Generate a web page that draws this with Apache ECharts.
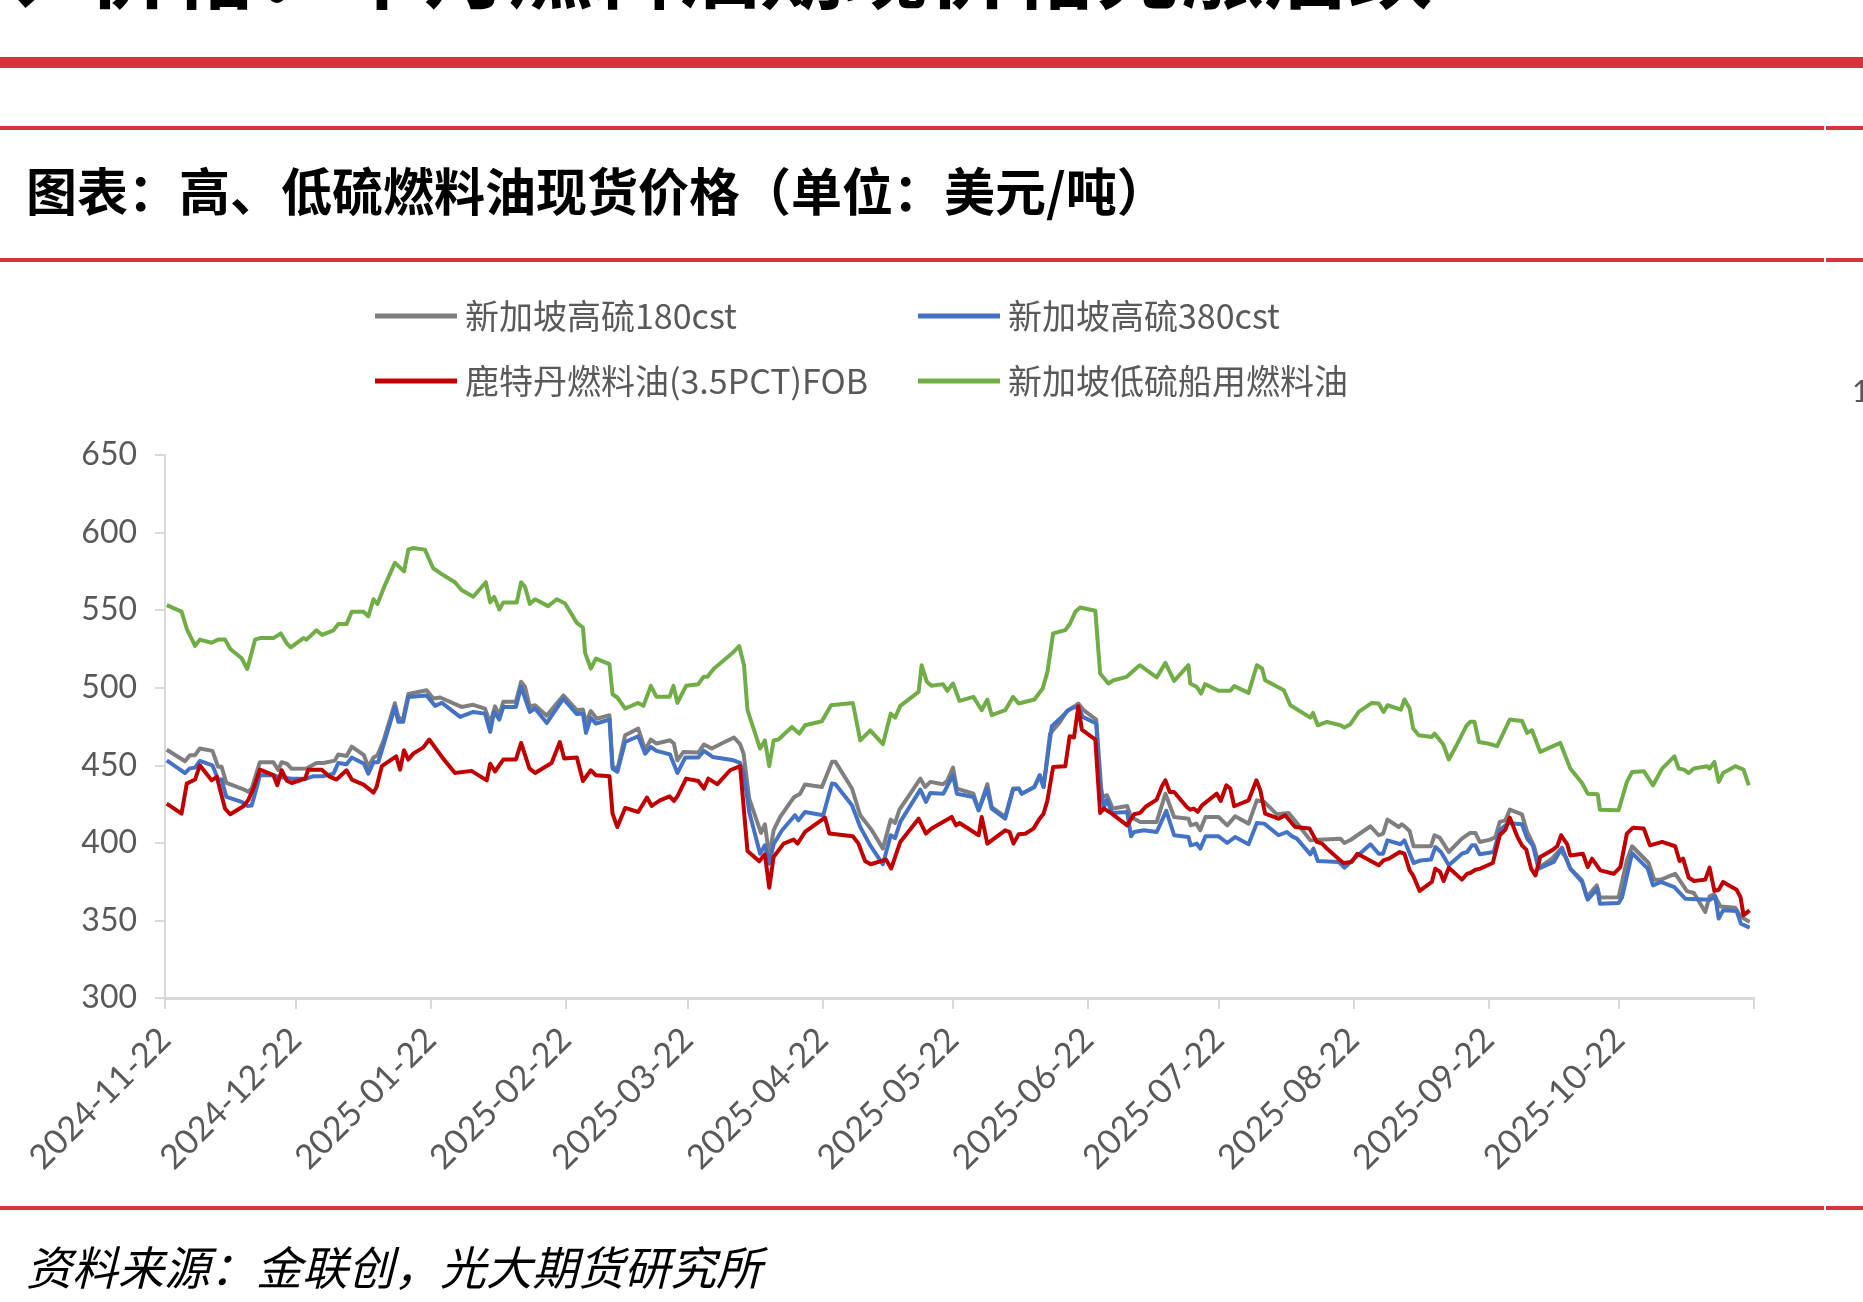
<!DOCTYPE html>
<html><head><meta charset="utf-8">
<script src="https://cdn.jsdelivr.net/npm/echarts@6/dist/echarts.min.js"></script>
<style>html,body{margin:0;padding:0;background:#fff}#c{width:1863px;height:1302px}</style>
</head><body><div id="c"></div>
<script>
// ---- data ----
const startDate = '2024-11-22';           // day 0 of the series offsets
const tickDates = ['2024-11-22','2024-12-22','2025-01-22','2025-02-22','2025-03-22','2025-04-22','2025-05-22','2025-06-22','2025-07-22','2025-08-22','2025-09-22','2025-10-22','2025-11-22'];
const labelDates = tickDates.slice(0, 12);
const yMin = 300, yMax = 650, yStep = 50;
const seriesNames = ['新加坡高硫180cst','新加坡高硫380cst','鹿特丹燃料油(3.5PCT)FOB','新加坡低硫船用燃料油'];
const chartTitle = '图表：高、低硫燃料油现货价格（单位：美元/吨）';
const sourceNote = '资料来源：金联创，光大期货研究所';
const pageHeading = '二、价格：本月燃料油期现价格先涨后跌';

// [day offset from startDate, USD/t]
const hsfo180 = [[0.4,460],[4.6,452.6],[5.7,456.5],[6.9,456.5],[8,460.8],[10.9,459.3],[12.2,449],[13,449],[14.1,438.6],[17.6,435],[19.1,433],[19.9,435],[21.8,452],[24.9,452],[26,447],[26.8,452],[28,451],[29.1,447.7],[32.5,448],[34.8,451.5],[36.4,451.5],[39,453],[39.8,457],[41.7,456],[42.9,462],[45.7,456.5],[46.7,449],[47.9,455],[48.8,456.5],[50.2,466],[52.8,490],[53.6,481],[54.6,479],[55.9,496],[60.1,498.4],[61.6,493],[63.2,493.7],[68.1,487.6],[70.8,489],[73.5,486.5],[74.7,477.3],[75.8,488],[76.8,482],[77.7,491],[80.6,491],[81.8,503.8],[82.7,500.5],[83.8,487.6],[85,488.7],[87.7,482],[91.5,495],[94.6,485.5],[96,486],[96.7,477.3],[97.8,485],[99.2,480],[102.1,482.3],[102.8,449.4],[103.9,447.2],[105.7,469.4],[108.7,473.7],[110.3,460.1],[111.6,466.6],[112.9,464],[116,466.1],[116.9,464],[117.7,453.2],[119.1,458.6],[122.5,458.2],[123.8,463.4],[125.6,460.8],[127.5,463.6],[130.7,467.9],[132.1,463.6],[132.9,457.5],[134.2,428.5],[136.9,406.4],[137.8,412],[138.8,391.3],[139.8,408],[141.3,416.7],[144.4,429.2],[145.9,431.7],[147,437.6],[150.9,436],[153.2,452.2],[154,452.2],[157.8,435],[159.7,417.8],[162.4,408],[164.9,396.3],[166.7,415],[167.7,412.8],[168.7,421.4],[171.2,431.7],[173.5,441.4],[174.6,436],[175.8,439.3],[178.7,437.8],[179.7,440],[181,448.5],[181.9,435],[185.7,431.7],[186.9,421],[188.9,437.8],[189.9,423.1],[193,416.7],[194.8,435],[196.1,435],[196.8,431.7],[199.7,436],[201,443.6],[201.8,436],[203.3,470.4],[205.6,478],[207.2,485],[209.1,488.3],[209.8,489.8],[211,485.5],[213.9,479.5],[215.2,429.6],[216.4,430.7],[217.7,422.1],[221,423.8],[221.9,416.7],[224,413.5],[227.8,413.5],[229.8,431.7],[231.8,416.7],[235.1,415.6],[235.6,411.3],[236.9,412.4],[237.8,408.1],[239,416.7],[242,416.7],[244,411.3],[245.8,417.1],[248.9,412.4],[250.8,427.4],[252.5,426.4],[255.4,418.4],[258.1,419.3],[260,412.8],[263.1,401.6],[265,402],[270,402.7],[270.9,399.9],[272.4,402],[276.9,410.7],[278.8,404.9],[279.8,406],[280.8,415],[283.4,410.2],[284.1,412],[284.9,410.2],[285.9,407.7],[286.8,397.8],[290.8,397.8],[291.6,404.9],[292.8,403.4],[294.9,394.1],[297.9,402.7],[299.8,406.4],[301,406.4],[302,400.6],[304.4,402.1],[305.6,403.8],[306.6,413.5],[307.9,414.5],[308.9,421.4],[311.7,418.4],[312.9,407],[314.4,398.4],[315.8,384.4],[318.6,389.8],[320.5,395.6],[321.7,390.9],[322.8,383.4],[325.5,375.8],[326.6,365],[328.9,372.6],[329.6,364.7],[333.9,365],[335.8,388.7],[337,397.8],[340.8,387],[342.1,376.2],[343.5,376.2],[346.9,380.1],[349.6,368.9],[351.2,367.7],[353.8,355.4],[354.8,365.5],[355.8,366.8],[357.3,359],[360.7,358.2],[361.9,352.6],[364,349]];

const hsfo380 = [[0.4,453.2],[4.6,445],[5.7,448],[6.9,448.5],[8,452.8],[10.9,450],[12.2,440.8],[13,440.8],[14.1,429.6],[17.6,426.4],[18.9,423.8],[19.9,424],[21,435],[21.8,443.6],[24.9,443.6],[26,442.5],[29.1,441.4],[32.5,441.4],[34.1,443],[36.4,443],[38.7,444.6],[39.8,451.5],[41.7,450.7],[42.9,455],[45.7,451],[46.7,444.6],[47.9,452],[49,452],[50.5,466],[52.8,487.6],[53.6,478],[54.7,478],[55.9,494],[60.1,495],[62,488.3],[63.6,490.2],[67.8,481.2],[70.8,484.4],[73.5,483.3],[74.7,471.5],[75.6,484.4],[76.8,479.5],[77.7,487.6],[80.6,487.6],[81.8,500.5],[83.8,484.4],[85,486.6],[87.7,477.3],[91.5,493],[94.6,483],[96,483.3],[96.7,470.9],[97.8,480.6],[99,476.9],[102.1,479.5],[102.8,447.9],[103.9,445.7],[105.7,465],[108.7,468.7],[110.3,457.5],[111.6,461.8],[112.9,459.3],[116,457],[117.7,445],[119.5,455],[122.5,455],[123.8,459.3],[125.8,455.4],[130.6,453.2],[132.1,451.5],[133,443.6],[134.2,419.9],[136.7,393],[137.8,398.4],[138.8,386.6],[139.8,399.1],[141.7,408],[144.7,417.8],[145.5,414.5],[147,419.9],[151.2,417.8],[153.2,438.2],[154,437.8],[157.8,424.2],[159.7,410.2],[162,398.4],[164.9,386.2],[166.7,404.9],[167.7,403.1],[168.9,413.5],[173.5,434.3],[174.8,426.4],[175.8,432.2],[178.8,431.7],[181,443.6],[181.9,431.7],[185.7,429.6],[186.9,421],[188.8,435],[189.9,422],[193,415.6],[194.8,434.3],[196.1,435],[196.8,431.7],[199.7,436],[200.9,443.6],[201.8,436],[203.7,475.2],[205.6,480.1],[207.5,485.5],[208.7,487.2],[209.8,487.6],[210.8,481.2],[213.9,476.9],[214.8,438.2],[215.7,423.1],[216.4,427.9],[217.5,419.3],[221,419.9],[221.9,404.2],[222.6,407],[224.8,408.1],[227.8,407],[230,420.6],[231.8,404.9],[235.1,403.8],[235.6,398.4],[237,399.5],[237.8,396.3],[239,404.2],[242,404.2],[244,399.9],[245.8,403.8],[248.9,399.1],[250.8,412.8],[252.5,412.4],[255.8,404.9],[257.7,407],[258.9,404.2],[260,402.7],[263.1,392.6],[263.8,396.3],[264.8,388.3],[269.6,387.7],[270.9,384],[272.3,387.7],[276.9,399.1],[278.8,393],[279.8,393],[280.8,401.6],[283.8,399.1],[284.7,401.6],[286.8,387],[288.4,388.7],[290.8,389.2],[291.8,397.3],[293.1,394.1],[294.9,385.5],[297.9,393],[299.1,394.1],[300.2,398.4],[301,398.4],[302,392.6],[305.2,394.1],[306.6,408.1],[307.9,411.3],[308.6,412.8],[311.7,412],[312.9,402.7],[314.2,398.4],[315.5,383.4],[319,387.7],[320.9,396.9],[322.8,383.4],[325.5,374.8],[326.8,363.4],[329,370.5],[329.6,360.8],[333.9,361.2],[334.7,365],[337,393.4],[340.6,383.4],[341.8,372.6],[343.6,374.8],[346.7,371.5],[349.2,364],[355,363.4],[356.1,365.5],[356.9,351.2],[357.9,356.5],[361,356.1],[362,347.9],[364,345.3]];

const rotterdam = [[0.4,425.3],[3.8,418.8],[5,438.2],[6.9,440.8],[8,450],[10.7,440.3],[11.9,442.5],[13.8,422],[15,418.4],[18,423.6],[19.1,427.4],[20.3,435],[21.8,447.2],[24.9,443.6],[25.8,437.1],[26.8,446.8],[28,440],[29.1,438.6],[32.2,441.4],[32.9,447.2],[36,447.2],[37.9,442.5],[39.4,440.8],[41.7,446.8],[42.9,440.8],[45.6,437.5],[47.9,432.4],[48.6,436],[49.8,449.4],[53.1,455.8],[54,447.2],[54.9,459.7],[55.9,453.7],[57,457.5],[59.3,461.4],[60.7,466.6],[63.9,454.3],[66.6,445],[70.4,446.4],[73.9,440.3],[74.7,451],[75.8,446],[77.7,453.7],[80.6,453.7],[81.8,464.4],[83.7,448],[85,445],[88.8,451.5],[90.7,465],[91.7,454.3],[94.6,455],[96,439.9],[97.8,446.8],[99,443.6],[102.1,442.9],[102.8,418.8],[103.9,410.2],[105.7,422.5],[108.7,419.9],[110.7,429.2],[111.8,423.8],[113.7,427.4],[115.9,430],[116.9,427],[117.7,430],[119.7,441.4],[122.5,439.9],[123.8,435],[124.8,441.4],[126.9,437.8],[129.8,446.8],[132.1,449.4],[133.8,394.8],[136.5,388.1],[137.8,392.6],[138.8,371.1],[139.8,390.9],[142.1,399.5],[144.4,402.1],[145.3,399.5],[147,407],[151.6,416.3],[152.6,406],[158,404.2],[159.3,399.5],[160.8,388.3],[162.1,386.2],[165.6,389.2],[166.8,383.4],[168.9,400.6],[173.1,415.6],[174.8,406],[176.1,409.3],[180.7,416.7],[181.7,411.3],[182.5,412.8],[186.9,404.9],[187.6,416.7],[188.9,399.5],[193,408.1],[194,407],[194.9,399.5],[196.1,405.5],[197.6,405.9],[199.5,409.2],[200.9,415.6],[201.8,418.8],[202.7,427.4],[204,448.9],[206.8,449.4],[207.8,468.7],[208.8,467.9],[209.8,488.1],[210.6,473],[213.7,466.6],[214.8,419.3],[215.7,422.1],[217.5,418.8],[221,411.3],[222.6,418.4],[224,419.3],[225.2,423.1],[227.8,427.9],[229,436.5],[229.8,440.3],[230.8,432.8],[231.8,432.8],[234.7,423.1],[235.5,421.4],[236.3,422.1],[237.2,420],[238.2,424.2],[241.6,431.7],[242.5,427],[243.8,437.1],[244.7,435],[245.6,423.6],[248.9,427.4],[250.7,440.3],[251.6,433.9],[252.7,418.8],[255.8,415.6],[257.3,417.8],[259.6,410.2],[262.9,409.2],[264.6,400.6],[265.8,399.5],[266.9,396.3],[270,388.7],[270.7,387],[272.6,387.7],[273.9,393],[278.8,385.5],[279.9,388.7],[281.1,389.8],[283.6,394.1],[284.7,393],[285.9,382.3],[286.7,379],[288.2,369],[291,374.8],[291.8,383.4],[292.9,381.3],[293.7,375.4],[294.9,384],[297.9,376.3],[299.1,380.1],[299.8,380.6],[301,382.7],[302.1,383.4],[305,387],[306.6,404.9],[307.9,408.5],[308.9,416.3],[310.6,404.2],[311.7,398.4],[312.7,395.6],[313.8,383.4],[314.8,379],[315.9,390.9],[318.6,395.2],[319.8,397.8],[320.7,404.9],[322.1,399.1],[322.8,391.9],[325.7,393],[326.8,384.4],[327.8,389.8],[329.7,382.3],[332.8,380.1],[334.3,384.4],[335.8,405.9],[337.2,409.8],[339.7,409.2],[341.1,398.4],[343.9,400.6],[346.9,397.8],[347.9,388.3],[348.7,389.8],[350,377.6],[351.2,375.4],[353.8,376.3],[354.8,384],[355.9,369],[356.9,369.8],[357.9,374.8],[361,369.8],[361.9,365],[362.6,353.3],[364,356.5]];

const lsfo = [[0.4,553.2],[3.8,549],[5,538],[6.9,527],[8,531],[10.7,529],[12.2,531],[13.8,531],[15,525],[17.6,519],[18.9,512],[20.7,531],[21.8,532],[24.9,532],[26.6,535],[28,528.5],[28.9,526],[31.8,532],[32.5,531],[34.8,537],[36.1,534],[38.7,537],[39.8,541],[41.7,541],[42.9,549],[45.6,549],[46.7,546],[47.9,557],[48.8,554],[50.2,564],[52.8,580.5],[54.9,575],[55.9,589],[56.9,590],[59.7,589],[61.6,577],[63.9,572.6],[66.6,568],[68.1,563],[70.8,558.6],[73.7,568],[74.7,555],[75.6,558.6],[76.8,550.4],[77.7,555],[80.8,555],[81.8,568],[82.7,565],[83.8,554],[85,557],[88,552.6],[90,557],[91.9,554.3],[94.6,541.8],[96,538.8],[96.5,522.5],[97.8,512.4],[99,518.8],[102.1,515.2],[102.8,495.8],[103.9,493.7],[105.7,486.6],[108.7,490.2],[109.9,488.3],[111.6,501.2],[112.9,494.1],[115.9,494.1],[116.8,501.2],[117.7,490.2],[119.7,501.2],[122.5,502.3],[123.7,507],[124.6,507],[126.1,512.4],[127.5,515.6],[130.2,522],[131.9,526.8],[133,514.5],[133.8,485.5],[136.7,460.8],[137.8,466],[138.8,449.4],[139.8,466],[140.9,466.6],[144,474.7],[145.7,470.4],[147,475.8],[150.9,478.4],[153,488.7],[158,490.2],[159.7,466],[162,472.5],[164.9,463.6],[166.7,483.3],[167.7,480.7],[168.9,488.3],[173.1,497.3],[173.8,514.5],[175,503.8],[176.1,501.2],[178.7,502.3],[179.7,498],[181,502.7],[182.5,491.5],[185.7,494.1],[187.6,485.5],[188.9,492.4],[189.9,482.3],[193,485.5],[194.8,494.1],[196.1,489.8],[199.7,492.4],[201.6,499.5],[202.7,510.2],[204,535],[206.8,537.1],[207.9,541.4],[209.1,548.9],[210.2,551.7],[213.7,549.6],[214.8,509.2],[216.7,502.7],[217.9,504.8],[220.9,507],[223.9,514.5],[227.8,506.6],[229.8,516],[231.8,504.4],[235.1,514.5],[235.5,502.7],[237,500.5],[238,496.2],[238.9,502.3],[242,498],[244.7,498],[245.6,501],[248.9,496.7],[250.8,514.5],[252,512.4],[252.7,504.8],[257,498.4],[258.5,488.7],[263.1,480.7],[263.7,483.8],[264.8,475.8],[266.9,478],[270,475.8],[270.9,474.3],[272.3,476.5],[274.2,484.4],[277.2,490.2],[278.8,489.8],[279.9,484.4],[280.8,488.7],[283.9,485.9],[284.7,492.4],[285.9,486.6],[286.7,473.7],[288,469.4],[291,468.3],[291.6,470.4],[293.6,463.6],[294.9,453.7],[296.8,463.6],[298.9,475.2],[299.8,478],[300.8,478],[301.8,465],[304.1,463.9],[306,462.3],[308.9,479.5],[311.7,478.6],[312.9,470.9],[314,472.6],[315.9,458.6],[320.5,464.4],[322.8,447.9],[325.5,438.6],[326.8,431.7],[329.1,431.3],[329.6,421.4],[333.9,421],[335.8,439.3],[337,445.7],[339.7,446.2],[341.8,437.1],[343.9,447.9],[346.7,455.8],[347.7,447.9],[348.9,447.2],[350,445],[351.2,447.9],[354.2,449.4],[354.8,447.9],[355.9,452.2],[356.9,439.3],[357.9,445],[360.7,449.4],[362.6,447.2],[363.8,437.1]];

const seriesValues = [hsfo180, hsfo380, rotterdam, lsfo];
const seriesColors = ['#7f7f7f', '#4472c4', '#c00000', '#70ad47'];

// ---- build ----
const DAY = 86400000;
function parseDate(s) { const p = s.split('-').map(Number); return Date.UTC(p[0], p[1] - 1, p[2]); }
const T0 = parseDate(startDate);
const dayOf = s => Math.round((parseDate(s) - T0) / DAY);
const pad = n => (n < 10 ? '0' : '') + n;
function fmtDay(d) { const t = new Date(T0 + Math.round(d) * DAY); return t.getUTCFullYear() + '-' + pad(t.getUTCMonth() + 1) + '-' + pad(t.getUTCDate()); }
const tickDays = tickDates.map(dayOf);
const labelDays = labelDates.map(dayOf);

const RED = '#d5353d';
const axisGray = '#d9d9d9';
const txtGray = '#595959';
const numFont = 'Lato, "Liberation Sans", sans-serif';
const cjkFont = '"Noto Sans CJK SC", sans-serif';

const legendText = { fontSize: 34, lineHeight: 40, color: txtGray, fontFamily: cjkFont, padding: [0, 0, 0, 3] };

const chart = echarts.init(document.getElementById('c'), null, { renderer: 'canvas' });
chart.setOption({
  animation: false,
  backgroundColor: '#fff',
  grid: { left: 165, right: 109, top: 455, bottom: 304, containLabel: false },
  legend: [
    { data: [seriesNames[0], seriesNames[2]], orient: 'vertical', left: 370, top: 291, itemGap: 25,
      itemWidth: 82, itemHeight: 5, icon: 'rect', textStyle: legendText },
    { data: [seriesNames[1], seriesNames[3]], orient: 'vertical', left: 913, top: 291, itemGap: 25,
      itemWidth: 82, itemHeight: 5, icon: 'rect', textStyle: legendText }
  ],
  xAxis: {
    type: 'value',
    min: tickDays[0],
    max: tickDays[tickDays.length - 1],
    axisLine: { show: true, onZero: false, lineStyle: { color: axisGray, width: 3 } },
    axisTick: { show: true, length: 11, inside: false, lineStyle: { color: axisGray, width: 2 },
      customValues: tickDays },
    axisLabel: { show: true, rotate: 45, margin: 36, fontSize: 34, color: txtGray, fontFamily: numFont,
      customValues: labelDays, formatter: v => fmtDay(v), showMinLabel: true, showMaxLabel: true },
    splitLine: { show: false }
  },
  yAxis: {
    type: 'value', min: yMin, max: yMax, interval: yStep,
    axisLine: { show: true, lineStyle: { color: axisGray, width: 2 } },
    axisTick: { show: true, length: 10, inside: false, lineStyle: { color: axisGray, width: 2 } },
    axisLabel: { margin: 28, fontSize: 32, color: txtGray, fontFamily: numFont },
    splitLine: { show: false }
  },
  series: seriesNames.map((name, i) => ({
    name, type: 'line', data: seriesValues[i], showSymbol: false, symbol: 'none',
    color: seriesColors[i], lineStyle: { width: 4, color: seriesColors[i], join: 'round' },
    z: 2 + i
  })),
  graphic: [
    { type: 'text', left: -80, top: -72, style: { text: pageHeading, fontSize: 84, fontWeight: 'bold', fill: '#000', fontFamily: cjkFont } },
    { type: 'rect', shape: { x: 0, y: 57, width: 1863, height: 11 }, style: { fill: RED } },
    { type: 'rect', shape: { x: 0, y: 126, width: 1824, height: 4 }, style: { fill: RED } },
    { type: 'rect', shape: { x: 1826, y: 126, width: 37, height: 4 }, style: { fill: RED } },
    { type: 'text', left: 26, top: 166, style: { text: chartTitle, fontSize: 51, fontWeight: 'bold', fill: '#000', fontFamily: cjkFont } },
    { type: 'rect', shape: { x: 0, y: 258, width: 1824, height: 4 }, style: { fill: RED } },
    { type: 'rect', shape: { x: 1826, y: 258, width: 37, height: 4 }, style: { fill: RED } },
    { type: 'text', left: 1852, top: 377, style: { text: '1', fontSize: 30, fill: txtGray, fontFamily: numFont } },
    { type: 'rect', shape: { x: 0, y: 1206, width: 1824, height: 4 }, style: { fill: RED } },
    { type: 'rect', shape: { x: 1826, y: 1206, width: 37, height: 4 }, style: { fill: RED } },
    { type: 'text', left: 26, top: 1245, style: { text: sourceNote, fontSize: 46, fontStyle: 'italic', fill: '#000', fontFamily: cjkFont } }
  ]
});
</script>
</body></html>
